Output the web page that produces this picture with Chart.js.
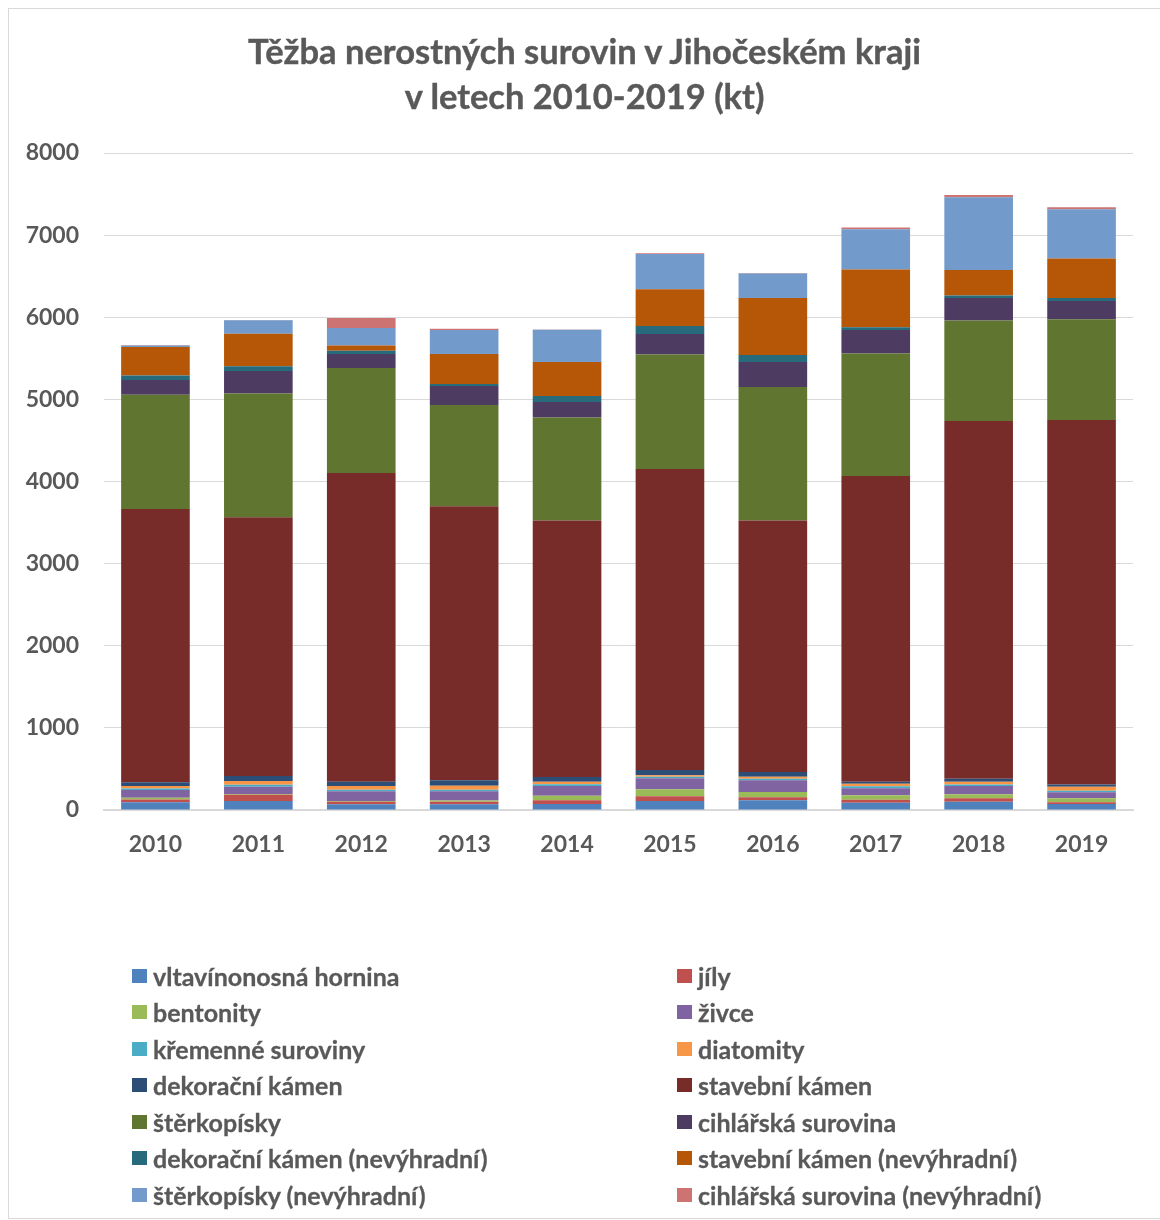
<!DOCTYPE html>
<html>
<head>
<meta charset="utf-8">
<script src="https://cdn.jsdelivr.net/npm/chart.js@4.4.1/dist/chart.umd.min.js"></script>
<style>
  html, body { margin: 0; padding: 0; background: #fff; overflow: hidden; }
  #wrap { position: relative; width: 1160px; height: 1220px; overflow: hidden; }
  #frame { position: absolute; left: 8px; top: 8px; width: 1200px; height: 1211px; border: 1.5px solid #d9d9d9; box-sizing: border-box; pointer-events: none; }
  #title { position: absolute; left: 0; width: 1169px; top: 28px; text-align: center; font-family: Lato, "Open Sans", sans-serif; font-weight: bold; font-size: 34.5px; line-height: 45px; color: #595959; -webkit-text-stroke: 0.4px #595959; }
  #chart { position: absolute; left: 0; top: 0; }
  #legend { position: absolute; left: 132px; top: 957.5px; display: grid; grid-template-columns: 545px 460px; grid-auto-rows: 36.5px; font-family: Lato, "Open Sans", sans-serif; font-weight: bold; font-size: 25px; color: #595959; -webkit-text-stroke: 0.3px #595959; }
  .item { display: flex; align-items: center; white-space: nowrap; }
  .box { width: 15px; height: 14px; margin-right: 6px; flex: none; }
</style>
</head>
<body>
<div id="wrap">
  <canvas id="chart" width="1160" height="1220"></canvas>
  <div id="title">Těžba nerostných surovin v Jihočeském kraji<br>v letech 2010-2019 (kt)</div>
  <div id="legend"></div>
  <div id="frame"></div>
</div>
<script>
const years = ["2010","2011","2012","2013","2014","2015","2016","2017","2018","2019"];
const yTicks = [0,1000,2000,3000,4000,5000,6000,7000,8000];

const vltavinonosna = [93,110,69,69,73,110,118,89,101,73];
const jily          = [35,77,32,32,45,57,37,37,41,20];
const bentonity     = [20,8,8,16,57,85,65,53,49,49];
const zivce         = [97,89,118,110,118,134,142,85,101,73];
const kremenne      = [16,24,20,20,20,20,20,24,20,20];
const diatomity     = [32,45,45,49,32,16,24,32,32,49];
const dekoracni     = [45,61,53,65,57,65,57,24,37,28];
const stavebni      = [3326,3152,3757,3339,3123,3664,3062,3722,4355,4436];
const sterkopisky   = [1393,1507,1279,1231,1255,1395,1625,1492,1224,1228];
const cihlarska     = [178,272,171,231,187,251,306,287,275,223];
const dekoracniNev  = [57,57,41,24,73,97,85,33,29,36];
const stavebniNev   = [345,398,64,366,414,447,694,703,312,480];
const sterkopiskyNev= [20,163,212,293,395,430,297,491,886,600];
const cihlarskaNev  = [4,3,122,16,3,8,8,21,28,25];

const seriesNames = [
  "vltavínonosná hornina","jíly","bentonity","živce","křemenné suroviny","diatomity",
  "dekorační kámen","stavební kámen","štěrkopísky","cihlářská surovina",
  "dekorační kámen (nevýhradní)","stavební kámen (nevýhradní)","štěrkopísky (nevýhradní)","cihlářská surovina (nevýhradní)"
];
const seriesValues = [vltavinonosna,jily,bentonity,zivce,kremenne,diatomity,dekoracni,stavebni,sterkopisky,cihlarska,dekoracniNev,stavebniNev,sterkopiskyNev,cihlarskaNev];
const seriesColors = ["#4F81BD","#C0504D","#9BBB59","#8064A2","#4BACC6","#F79646","#2C4D75","#772C2A","#5F7530","#4D3B62","#276A7C","#B65708","#729ACA","#CD7371"];

const datasets = seriesNames.map((n,i)=>({
  label: n,
  data: seriesValues[i],
  backgroundColor: seriesColors[i],
  borderWidth: 0,
  barPercentage: 0.667,
  categoryPercentage: 1.0
}));

const FONT = "Lato, 'Open Sans', sans-serif";

new Chart(document.getElementById("chart"), {
  type: "bar",
  data: { labels: years, datasets },
  options: {
    responsive: false,
    animation: false,
    layout: { padding: { left: 25, right: 27, top: 153, bottom: 350 } },
    plugins: { legend: { display: false }, title: { display: false }, tooltip: { enabled: false } },
    scales: {
      x: {
        stacked: true,
        grid: { display: false, drawTicks: false },
        border: { display: true, color: "#d9d9d9", width: 2 },
        ticks: { color: "#595959", font: { family: FONT, size: 23, weight: "bold" }, padding: 21 },
        afterFit: s => { s.height = 60; }
      },
      y: {
        stacked: true,
        min: 0, max: 8000,
        afterBuildTicks: s => { s.ticks = yTicks.map(v=>({value:v})); },
        grid: { color: "#d9d9d9", lineWidth: 1, drawTicks: false },
        border: { display: false },
        ticks: { color: "#595959", font: { family: FONT, size: 23, weight: "bold" }, padding: 25, callback: v => String(v) },
        afterFit: s => { s.width = 79; }
      }
    }
  }
});

const leg = document.getElementById("legend");
seriesNames.forEach((n,i)=>{
  const d = document.createElement("div"); d.className = "item";
  const b = document.createElement("span"); b.className = "box"; b.style.background = seriesColors[i];
  const t = document.createElement("span"); t.textContent = n;
  d.appendChild(b); d.appendChild(t); leg.appendChild(d);
});
</script>
</body>
</html>
